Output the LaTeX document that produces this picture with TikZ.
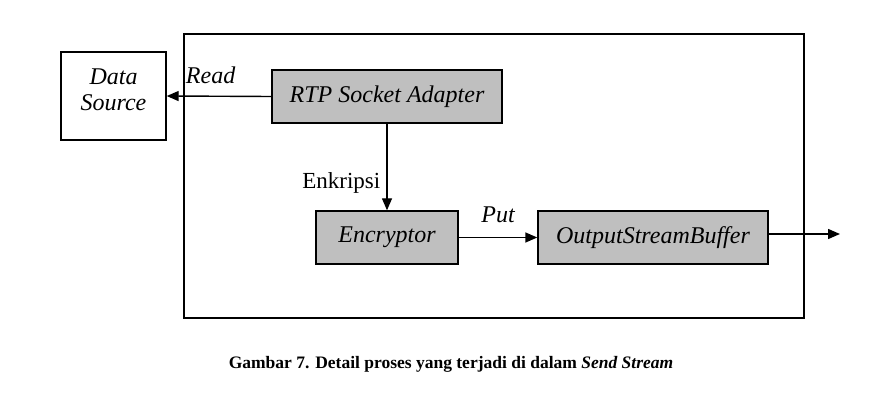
\documentclass[tikz,border=0pt]{standalone}
\usepackage{fontspec}
\setmainfont{Liberation Serif}
\usetikzlibrary{arrows.meta}

\begin{document}
\begin{tikzpicture}[x=1pt, y=-1pt, line width=1.4pt,
        >={Triangle[length=12pt,width=10pt]},
        every node/.append style={font=\fontsize{24}{27}\selectfont\itshape}]
      \tikzstyle{proc} = [draw, fill=black!25, minimum height=53pt, inner sep=0pt]
      \tikzstyle{lbl} = [inner sep=0pt]
      \useasboundingbox (0,0) rectangle (881,414);
      % frame of Send Stream
      \draw (184,34) rectangle (804,318);
      \node (source) [draw, minimum width=105pt, minimum height=88pt] at (113.5,96) {};
      \node (srctext) [align=center, yshift=6pt, font=\fontsize{24}{26}\selectfont\itshape]
        at (source.center) {Data\\Source};
      \node (rtp) [proc, minimum width=230pt] at (387,96.5) {RTP Socket Adapter};
      \node (enc) [proc, minimum width=142pt] at (387,237.5) {Encryptor};
      \node (osb) [proc, minimum width=230pt] at (653,237.5) {OutputStreamBuffer};
      \coordinate (out) at (840,234);
      \draw[->] (rtp.west) -- (source.east) node [lbl, pos=0.58, above=12pt] {Read};
      \draw[->] (rtp.south) -- (enc.north) node [lbl, pos=0.68, left=6pt, font=\fontsize{23}{26}\selectfont\upshape] {Enkripsi};
      \draw[->] (enc.east) -- (osb.west) node [lbl, midway, above=14pt] {Put};
      \draw[->] (osb.east |- out) -- (out);
      \node (caption) at (451,364) {\fontsize{17.5}{20}\selectfont\upshape\bfseries Gambar 7. Detail proses yang terjadi di dalam \itshape Send Stream};
    \end{tikzpicture}
\end{document}
